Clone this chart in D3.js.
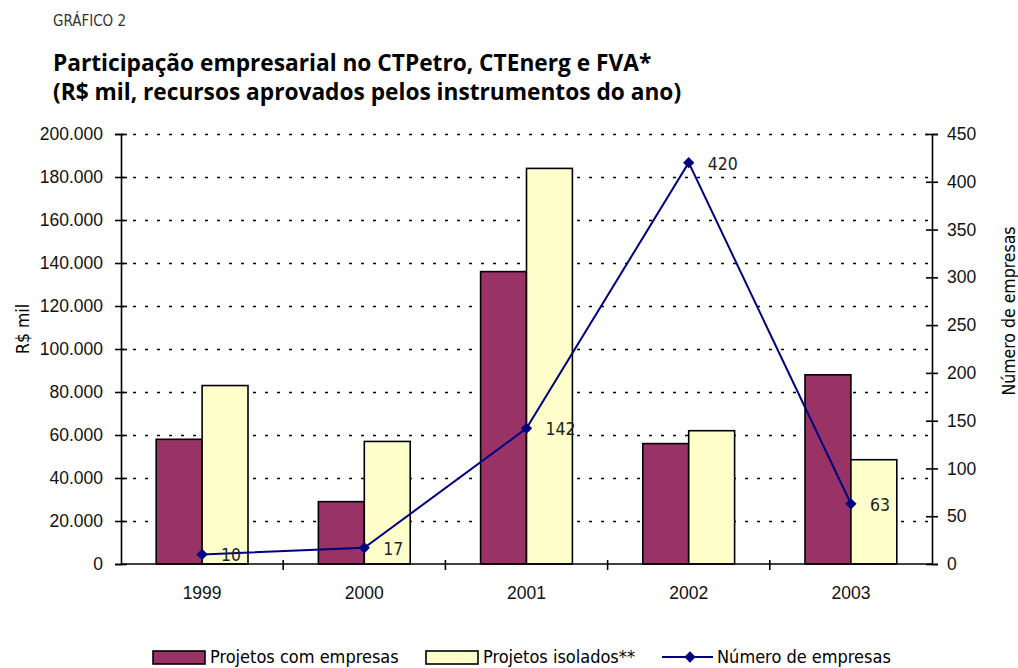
<!DOCTYPE html>
<html>
<head>
<meta charset="utf-8">
<script src="https://cdn.jsdelivr.net/npm/d3@7"></script>
<style>
  body { margin: 0; background: #fff; }
  svg { font-family: 'DejaVu Sans Condensed', 'Liberation Sans Narrow', sans-serif; }
  .axis text { font-size: 17.5px; fill: #111; }
  .axis path, .axis line { stroke: #000; stroke-width: 1.6px; }
  .grid line { stroke: #000; stroke-width: 1.6px; stroke-dasharray: 3 9; }
</style>
</head>
<body>
<div id="chart"></div>
<script>
const years = ['1999', '2000', '2001', '2002', '2003'];
const projetosComEmpresas = [58000, 29000, 136000, 56000, 88000];
const projetosIsolados = [83000, 57000, 184000, 62000, 48500];
const numeroEmpresas = [10, 17, 142, 420, 63];
const leftTicks = [0, 20000, 40000, 60000, 80000, 100000, 120000, 140000, 160000, 180000, 200000];
const rightTicks = [0, 50, 100, 150, 200, 250, 300, 350, 400, 450];

const width = 1018;
const height = 668;
const margin = { top: 134, right: 86, bottom: 104, left: 121 };
const innerW = width - margin.left - margin.right;
const innerH = height - margin.top - margin.bottom;

const colors = { com: '#993366', iso: '#FFFFCC', line: '#000080' };

const locale = d3.formatLocale({ decimal: ',', thousands: '.', grouping: [3], currency: ['R$', ''] });
const fmt = locale.format(',');

const svg = d3.select('#chart')
  .append('svg')
  .attr('width', width)
  .attr('height', height);

svg.append('text')
  .attr('x', 53)
  .attr('y', 26)
  .attr('font-size', '15px')
  .attr('fill', '#333')
  .text('GRÁFICO 2');

svg.append('text')
  .attr('x', 53)
  .attr('y', 71)
  .attr('font-family', "'Open Sans', sans-serif")
  .attr('font-size', '22.7px')
  .attr('font-weight', 'bold')
  .text('Participação empresarial no CTPetro, CTEnerg e FVA*');

svg.append('text')
  .attr('x', 53)
  .attr('y', 100)
  .attr('font-family', "'Open Sans', sans-serif")
  .attr('font-size', '22.7px')
  .attr('font-weight', 'bold')
  .text('(R$ mil, recursos aprovados pelos instrumentos do ano)');

const chart = svg.append('g')
  .attr('transform', `translate(${margin.left},${margin.top})`);

const x = d3.scaleBand()
  .domain(years)
  .range([0, innerW]);

const yLeft = d3.scaleLinear()
  .domain([0, 200000])
  .range([innerH, 0]);

const yRight = d3.scaleLinear()
  .domain([0, 450])
  .range([innerH, 0]);

const barW = x.bandwidth() * 0.283;

// dotted grid
chart.append('g')
  .attr('class', 'grid')
  .call(d3.axisLeft(yLeft).tickValues(leftTicks.slice(1)).tickSize(-innerW).tickFormat(''))
  .call((g) => g.select('.domain').remove());

// bars
const groups = chart.selectAll('.year')
  .data(years)
  .join('g')
  .attr('class', 'year')
  .attr('transform', (d) => `translate(${x(d) + x.bandwidth() / 2},0)`);

groups.append('rect')
  .attr('x', -barW)
  .attr('y', (d, i) => yLeft(projetosComEmpresas[i]))
  .attr('width', barW)
  .attr('height', (d, i) => innerH - yLeft(projetosComEmpresas[i]))
  .attr('fill', colors.com)
  .attr('stroke', '#000')
  .attr('stroke-width', 1.6);

groups.append('rect')
  .attr('x', 0)
  .attr('y', (d, i) => yLeft(projetosIsolados[i]))
  .attr('width', barW)
  .attr('height', (d, i) => innerH - yLeft(projetosIsolados[i]))
  .attr('fill', colors.iso)
  .attr('stroke', '#000')
  .attr('stroke-width', 1.6);

// axes
chart.append('g')
  .attr('class', 'axis axis-left')
  .call(d3.axisLeft(yLeft).tickValues(leftTicks).tickSize(6).tickPadding(12).tickFormat(fmt))
  .call((g) => g.selectAll('.tick line').attr('x1', 6).attr('x2', -6));

chart.append('g')
  .attr('class', 'axis axis-right')
  .attr('transform', `translate(${innerW},0)`)
  .call(d3.axisRight(yRight).tickValues(rightTicks).tickSize(6).tickPadding(9))
  .call((g) => g.selectAll('.tick line').attr('x1', -6).attr('x2', 6));

const xAxis = chart.append('g')
  .attr('class', 'axis axis-x')
  .attr('transform', `translate(0,${innerH})`)
  .call(d3.axisBottom(x).tickSize(0).tickPadding(23));
xAxis.select('.domain').attr('d', `M0,0H${innerW}`);

xAxis.selectAll('.sep')
  .data(d3.range(1, years.length))
  .join('line')
  .attr('class', 'sep')
  .attr('x1', (d) => d * x.step())
  .attr('x2', (d) => d * x.step())
  .attr('y1', -4)
  .attr('y2', 6);

// line series
const lineGen = d3.line()
  .x((d, i) => x(years[i]) + x.bandwidth() / 2)
  .y((d) => yRight(d));

chart.append('path')
  .datum(numeroEmpresas)
  .attr('fill', 'none')
  .attr('stroke', colors.line)
  .attr('stroke-width', 2)
  .attr('d', lineGen);

const marker = d3.symbol().type(d3.symbolSquare).size(64);

chart.selectAll('.marker')
  .data(numeroEmpresas)
  .join('path')
  .attr('class', 'marker')
  .attr('d', marker)
  .attr('transform', (d, i) => `translate(${x(years[i]) + x.bandwidth() / 2},${yRight(d)}) rotate(45)`)
  .attr('fill', colors.line);

chart.selectAll('.value-label')
  .data(numeroEmpresas)
  .join('text')
  .attr('class', 'value-label')
  .attr('x', (d, i) => x(years[i]) + x.bandwidth() / 2 + 19)
  .attr('y', (d) => yRight(d))
  .attr('dy', '0.4em')
  .attr('font-size', '17.5px')
  .attr('fill', '#222')
  .text((d) => d);

// axis titles
svg.append('text')
  .attr('transform', `translate(29, ${margin.top + innerH / 2 - 20}) rotate(-90)`)
  .attr('text-anchor', 'middle')
  .attr('font-size', '17.5px')
  .text('R$ mil');

svg.append('text')
  .attr('transform', `translate(1015, ${margin.top + innerH / 2 - 38}) rotate(-90)`)
  .attr('text-anchor', 'middle')
  .attr('font-size', '17.5px')
  .text('Número de empresas');

// legend
const legend = svg.append('g')
  .attr('transform', 'translate(0, 657)');

const legendItems = [
  { label: 'Projetos com empresas', type: 'rect', color: colors.com, x: 153 },
  { label: 'Projetos isolados**', type: 'rect', color: colors.iso, x: 426 },
  { label: 'Número de empresas', type: 'line', color: colors.line, x: 662 },
];

legendItems.forEach((item) => {
  const g = legend.append('g').attr('transform', `translate(${item.x},0)`);
  if (item.type === 'rect') {
    g.append('rect')
      .attr('x', 0)
      .attr('y', -6)
      .attr('width', 52)
      .attr('height', 13)
      .attr('fill', item.color)
      .attr('stroke', '#000')
      .attr('stroke-width', 1.6);
    g.append('text')
      .attr('x', 57)
      .attr('dy', '0.35em')
      .attr('font-size', '18px')
      .text(item.label);
  } else {
    g.append('line')
      .attr('x1', 0)
      .attr('x2', 51)
      .attr('stroke', item.color)
      .attr('stroke-width', 2);
    g.append('path')
      .attr('transform', 'translate(28,0) rotate(45)')
      .attr('d', marker)
      .attr('fill', item.color);
    g.append('text')
      .attr('x', 55)
      .attr('dy', '0.35em')
      .attr('font-size', '18px')
      .text(item.label);
  }
});
</script>
</body>
</html>
